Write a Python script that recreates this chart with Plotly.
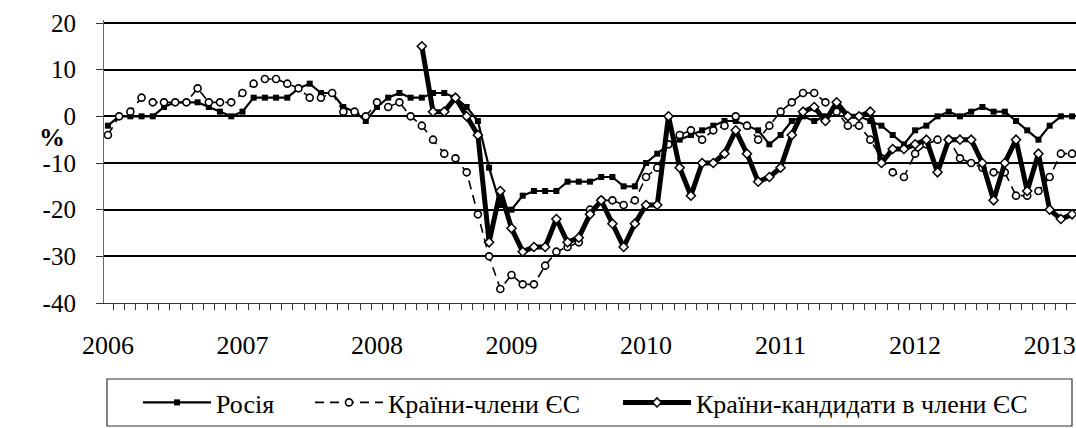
import plotly.graph_objects as go

# ---- data (monthly, Jan 2006 .. Mar 2013) ----
months = [f"{y}-{m:02d}" for y in range(2006, 2014) for m in range(1, 13)][:87]
year_labels = ["2006", "2007", "2008", "2009", "2010", "2011", "2012", "2013"]
y_ticks = [-40, -30, -20, -10, 0, 10, 20]
y_tick_labels = ["-40", "-30", "-20", "-10", "0", "10", "20"]

russia = [
    -2, 0, 0, 0, 0, 2, 3, 3, 3, 2, 1, 0,          # 2006
    1, 4, 4, 4, 4, 6, 7, 5, 5, 2, 1, -1,          # 2007
    2, 4, 5, 4, 4, 5, 5, 4, 2, -1, -11, -19,      # 2008
    -20, -17, -16, -16, -16, -14, -14, -14, -13, -13, -15, -15,  # 2009
    -10, -8, -6, -5, -4, -3, -2, -1, -1, -2, -3, -6,             # 2010
    -4, -1, 0, -1, 0, 2, 0, 0, -1, -2, -4, -6,    # 2011
    -3, -2, 0, 1, 0, 1, 2, 1, 1, -1, -3, -5,      # 2012
    -2, 0, 0,                                     # 2013
]

eu_members = [
    -4, 0, 1, 4, 3, 3, 3, 3, 6, 3, 3, 3,          # 2006
    5, 7, 8, 8, 7, 6, 4, 4, 5, 1, 1, 0,           # 2007
    3, 2, 3, 0, -2, -5, -8, -9, -12, -21, -30, -37,  # 2008
    -34, -36, -36, -32, -29, -28, -27, -20, -18, -18, -19, -18,  # 2009
    -13, -11, -6, -4, -3, -5, -3, -2, 0, -2, -5, -2,             # 2010
    1, 3, 5, 5, 3, 1, -2, -2, -5, -9, -12, -13,   # 2011
    -8, -6, -5, -5, -9, -10, -11, -12, -12, -17, -17, -16,       # 2012
    -13, -8, -8,                                  # 2013
]

eu_candidates = [None] * 28 + [
    15, 1, 1, 4, 0, -4, -27, -16,                 # May-Dec 2008
    -24, -29, -28, -28, -22, -27, -26, -21, -18, -23, -28, -23,  # 2009
    -19, -19, 0, -11, -17, -10, -10, -8, -3, -8, -14, -13,       # 2010
    -11, -4, 1, 2, -1, 3, 0, 0, 1, -10, -7, -7,   # 2011
    -6, -5, -12, -5, -5, -5, -10, -18, -10, -5, -16, -8,         # 2012
    -20, -22, -21,                                # 2013
]

names = ["Росія", "Країни-члени ЄС", "Країни-кандидати в члени ЄС"]

x = list(range(len(months)))

FONT = "serif"

fig = go.Figure()
fig.add_trace(go.Scatter(
    x=x, y=russia, name=names[0], mode="lines+markers", legend="legend",
    line=dict(color="black", width=2.2),
    marker=dict(symbol="square", size=6, color="black"),
    customdata=months, hovertemplate="%{customdata}: %{y}<extra></extra>",
))
fig.add_trace(go.Scatter(
    x=x, y=eu_members, name=names[1], mode="lines+markers", legend="legend2",
    line=dict(color="black", width=1.6, dash="9px,6px"),
    marker=dict(symbol="circle", size=7, color="white",
                line=dict(color="black", width=1.6)),
    customdata=months, hovertemplate="%{customdata}: %{y}<extra></extra>",
))
fig.add_trace(go.Scatter(
    x=x, y=eu_candidates, name=names[2], mode="lines+markers", legend="legend3",
    line=dict(color="black", width=5),
    marker=dict(symbol="diamond", size=7, color="white",
                line=dict(color="black", width=1.5)),
    customdata=months, hovertemplate="%{customdata}: %{y}<extra></extra>",
))

T, B = 20, 125
H_PLOT = 428 - T - B
def px_to_paper_y(ypx):
    return (T + H_PLOT - ypx) / H_PLOT
def px_to_paper_x(xpx):
    return (xpx - 104) / 972

leg_common = dict(
    orientation="h", yanchor="top", y=px_to_paper_y(379), xanchor="left",
    borderwidth=0, bgcolor="rgba(0,0,0,0)",
    font=dict(family=FONT, size=26, color="black"),
    itemwidth=68,
)

fig.update_layout(
    width=1076, height=428,
    margin=dict(l=104, r=0, t=T, b=B, autoexpand=False),
    paper_bgcolor="white", plot_bgcolor="white",
    font=dict(family=FONT, size=24, color="black"),
    showlegend=True,
    legend=dict(leg_common, x=px_to_paper_x(138)),
    legend2=dict(leg_common, x=px_to_paper_x(310)),
    legend3=dict(leg_common, x=px_to_paper_x(618)),
    shapes=[dict(
        type="rect", xref="paper", yref="paper",
        x0=px_to_paper_x(107), x1=px_to_paper_x(1072),
        y0=px_to_paper_y(379), y1=px_to_paper_y(426),
        line=dict(color="#333333", width=1.2), fillcolor="rgba(0,0,0,0)",
        layer="above",
    )],
    annotations=[dict(
        text="<b>%</b>", xref="paper", yref="y", x=px_to_paper_x(52), y=-4.6,
        xanchor="center", yanchor="middle", showarrow=False,
        font=dict(family=FONT, size=26, color="black"),
    )],
)

fig.update_xaxes(
    range=[-0.35, len(months) - 1 + 0.35],
    tickmode="array",
    tickvals=[12 * k for k in range(len(year_labels))],
    ticktext=year_labels,
    ticks="", ticklabelstandoff=19,
    tickfont=dict(family=FONT, size=26, color="black"),
    showgrid=False, zeroline=False,
    showline=True, linecolor="#333333", linewidth=1.2,
    minor=dict(tickvals=[k - 0.5 for k in range(len(months) + 1)],
               ticks="outside", ticklen=6, tickcolor="#333333", tickwidth=1,
               showgrid=False),
)
fig.update_yaxes(
    range=[-40, 20 + 3 / 4.667],
    tickmode="array", tickvals=y_ticks, ticktext=y_tick_labels,
    showgrid=True, gridcolor="black", gridwidth=2,
    zeroline=False,
    showline=True, linecolor="#666666", linewidth=1.2,
    ticks="outside", ticklen=7, tickcolor="#333333", tickwidth=1,
    ticklabelstandoff=15,
    tickfont=dict(family=FONT, size=25, color="black"),
)

fig.write_html("out.html", config={"displayModeBar": False},
               post_script="document.body.style.margin='0';")
